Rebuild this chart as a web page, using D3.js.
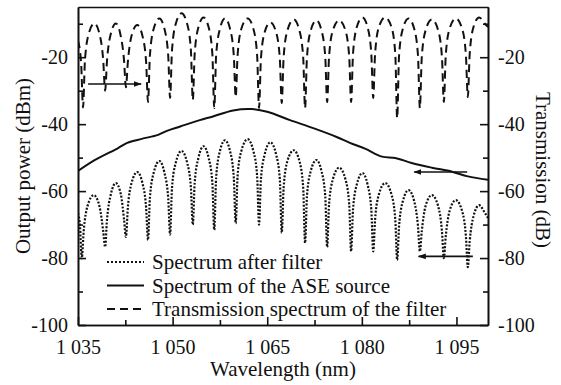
<!DOCTYPE html>
<html>
<head>
<meta charset="utf-8">
<script src="https://cdn.jsdelivr.net/npm/d3@7"></script>
<style>
  body { margin: 0; background: #fff; }
  svg text { font-family: "Liberation Serif", "Times New Roman", serif; fill: #111; }
</style>
</head>
<body>
<div id="chart"></div>
<script>
// wavelength ticks (nm) and power ticks (dB)
var xMajor = [1035, 1050, 1065, 1080, 1095];
var xMinor = [1042.5, 1057.5, 1072.5, 1087.5];
var yMajor = [-100, -80, -60, -40, -20];
var yMinor = [-90, -70, -50, -30, -10];

// spectrum of the ASE source [nm, dBm]
var aseSpectrum = [
  [1035.0,-54.0],[1037.7,-50.7],[1041.3,-47.2],[1042.8,-45.6],[1045.1,-44.4],
  [1047.7,-43.2],[1049.1,-42.0],[1051.2,-40.7],[1054.3,-38.8],[1056.4,-37.7],
  [1059.6,-35.9],[1062.6,-35.5],[1065.0,-36.3],[1068.6,-38.8],[1072.3,-41.2],
  [1076.1,-43.9],[1078.1,-45.6],[1080.5,-47.3],[1083.2,-49.7],[1085.3,-50.1],
  [1087.9,-51.6],[1091.1,-53.0],[1094.3,-54.2],[1096.8,-55.6],[1100.0,-56.6]
];

// transmission spectrum of the filter [nm, dB]
var filterTrans = [
  [1035.0,-15],[1035.5,-22],[1035.8,-35],
  [1036.1,-21],[1036.7,-13],[1037.6,-9.9],[1038.4,-13],[1039.0,-21],[1039.3,-30],
  [1039.6,-21],[1040.2,-13],[1041.0,-9.9],[1041.7,-13],[1042.3,-21],[1042.6,-29],
  [1042.9,-21.5],[1043.5,-13.5],[1044.4,-10.4],[1045.2,-13.5],[1045.8,-21.5],[1046.1,-33.4],
  [1046.4,-19.5],[1047.0,-11.5],[1047.9,-8.4],[1048.7,-11.5],[1049.3,-19.5],[1049.6,-32.2],
  [1049.9,-18],[1050.5,-10],[1051.4,-6.9],[1052.3,-10],[1052.9,-18],[1053.2,-32.8],
  [1053.5,-19],[1054.1,-11],[1054.9,-8.1],[1055.7,-11],[1056.3,-19],[1056.6,-35.2],
  [1056.9,-19.5],[1057.5,-11.5],[1058.3,-8.4],[1059.1,-11.5],[1059.7,-19.5],[1060.0,-31.9],
  [1060.3,-19.5],[1060.9,-11.5],[1061.9,-8.4],[1062.8,-11.5],[1063.4,-19.5],[1063.7,-35.2],
  [1064.0,-20.5],[1064.6,-12.5],[1065.5,-9.6],[1066.4,-12.5],[1067.0,-20.5],[1067.3,-33.7],
  [1067.6,-20],[1068.2,-12],[1069.2,-8.7],[1070.1,-12],[1070.7,-20],[1071.0,-35.2],
  [1071.3,-20],[1071.9,-12],[1072.8,-9],[1073.6,-12],[1074.2,-20],[1074.5,-33.4],
  [1074.8,-20],[1075.4,-12],[1076.4,-9],[1077.4,-12],[1078.0,-20],[1078.3,-33.4],
  [1078.6,-19],[1079.2,-11],[1080.1,-8.1],[1080.9,-11],[1081.5,-19],[1081.8,-32.2],
  [1082.1,-19],[1082.7,-11],[1083.7,-8.1],[1084.7,-11],[1085.3,-19],[1085.6,-38.2],
  [1085.9,-19.5],[1086.5,-11.5],[1087.4,-8.4],[1088.3,-11.5],[1088.9,-19.5],[1089.2,-35.2],
  [1089.5,-20],[1090.1,-12],[1091.1,-8.7],[1092.1,-12],[1092.7,-20],[1093.0,-33.4],
  [1093.3,-19.5],[1093.9,-11.5],[1094.9,-8.4],[1095.9,-11.5],[1096.5,-19.5],[1096.8,-31.9],
  [1097.1,-19],[1097.7,-11],[1098.6,-8.1],[1099.5,-10],[1100.0,-11]
];

// spectrum after filter [nm, dBm]
var afterFilter = [
  [1035.0,-66.6],[1035.3,-70],[1035.6,-80],
  [1035.9,-72],[1036.5,-64.5],[1037.5,-61.2],[1038.4,-64.5],[1039.0,-72],[1039.3,-76.7],
  [1039.6,-68.5],[1040.2,-61],[1041.0,-57.6],[1041.8,-61],[1042.3,-68.5],[1042.6,-73.7],
  [1042.9,-65],[1043.5,-57.5],[1044.4,-54.3],[1045.2,-57.5],[1045.8,-65],[1046.1,-74.6],
  [1046.4,-62],[1047.0,-54.5],[1047.9,-51],[1048.7,-54.5],[1049.3,-62],[1049.6,-73],
  [1049.9,-59],[1050.5,-51.5],[1051.4,-48],[1052.3,-51.5],[1052.9,-59],[1053.2,-70],
  [1053.5,-57.5],[1054.1,-50],[1054.9,-46.6],[1055.7,-50],[1056.3,-57.5],[1056.6,-71.6],
  [1056.9,-56],[1057.5,-48],[1058.3,-44.8],[1059.1,-48],[1059.7,-56],[1060.0,-69.6],
  [1060.3,-55.5],[1060.9,-48],[1061.9,-44.5],[1062.8,-48],[1063.4,-55.5],[1063.7,-70],
  [1064.0,-56.5],[1064.6,-49],[1065.5,-45.4],[1066.4,-49],[1067.0,-56.5],[1067.3,-72.5],
  [1067.6,-59],[1068.2,-51],[1069.2,-47.8],[1070.1,-51],[1070.7,-59],[1071.0,-75.5],
  [1071.3,-61.5],[1071.9,-54],[1072.8,-50.7],[1073.6,-54],[1074.2,-61.5],[1074.5,-76.7],
  [1074.8,-64],[1075.4,-56.5],[1076.4,-53],[1077.4,-56.5],[1078.0,-64],[1078.3,-78],
  [1078.6,-65.5],[1079.2,-58],[1080.1,-54.6],[1080.9,-58],[1081.5,-65.5],[1081.8,-78],
  [1082.1,-68.5],[1082.7,-61],[1083.7,-57.6],[1084.7,-61],[1085.3,-68.5],[1085.6,-80.6],
  [1085.9,-70.5],[1086.5,-63],[1087.4,-59.7],[1088.3,-63],[1088.9,-70.5],[1089.2,-78],
  [1089.5,-72],[1090.1,-64.5],[1091.1,-61.2],[1092.1,-64.5],[1092.7,-72],[1093.0,-80],
  [1093.3,-73.5],[1093.9,-66],[1094.9,-62.7],[1095.9,-66],[1096.5,-73.5],[1096.8,-82.7],
  [1097.1,-75],[1097.7,-67.5],[1098.6,-64.2],[1099.5,-66.5],[1100.0,-68]
];

// arrows pointing at the axis each curve belongs to [from nm, to nm, dB]
var arrows = [
  [1036.6, 1045.0, -28],
  [1096.7, 1088.3, -54.3],
  [1097.6, 1089.0, -79.5]
];

var legendNames = ["Spectrum after filter", "Spectrum of the ASE source", "Transmission spectrum of the filter"];
var legendDash = ["2,2", null, "8,5"];

var W = 561, H = 385;
var m = {top: 7, right: 73, bottom: 60, left: 78};

var svg = d3.select('#chart').append('svg').attr('width', W).attr('height', H);

var x = d3.scaleLinear().domain([1035, 1100]).range([m.left, W - m.right]);
var y = d3.scaleLinear().domain([-100, -5]).range([H - m.bottom, m.top]);

svg.append('defs').append('marker')
  .attr('id', 'head').attr('viewBox', '0 0 10 10')
  .attr('refX', 9).attr('refY', 5)
  .attr('markerWidth', 8).attr('markerHeight', 8)
  .attr('markerUnits', 'userSpaceOnUse')
  .attr('orient', 'auto')
  .append('path').attr('d', 'M0,1.5 L10,5 L0,8.5 Z').attr('fill', '#111');

var line = d3.line()
  .x(function(d){ return x(d[0]); })
  .y(function(d){ return y(d[1]); })
  .curve(d3.curveMonotoneX);

svg.append('defs').append('clipPath').attr('id', 'clip')
  .append('rect').attr('x', m.left).attr('y', m.top)
  .attr('width', W - m.left - m.right).attr('height', H - m.top - m.bottom);

var plot = svg.append('g').attr('clip-path', 'url(#clip)');

plot.append('path').datum(filterTrans).attr('d', line)
  .attr('fill', 'none').attr('stroke', '#111').attr('stroke-width', 2)
  .attr('stroke-dasharray', '8,5');
plot.append('path').datum(aseSpectrum).attr('d', line.curve(d3.curveCatmullRom))
  .attr('fill', 'none').attr('stroke', '#111').attr('stroke-width', 2);
line.curve(d3.curveMonotoneX);
plot.append('path').datum(afterFilter).attr('d', line)
  .attr('fill', 'none').attr('stroke', '#111').attr('stroke-width', 2.2)
  .attr('stroke-dasharray', '2,1.6');

svg.selectAll('.arrow').data(arrows).enter().append('line')
  .attr('class', 'arrow')
  .attr('x1', function(d){ return x(d[0]); })
  .attr('x2', function(d){ return x(d[1]); })
  .attr('y1', function(d){ return y(d[2]); })
  .attr('y2', function(d){ return y(d[2]); })
  .attr('stroke', '#111').attr('stroke-width', 1.6)
  .attr('marker-end', 'url(#head)');

// axes, ticks inward
function styleAxis(g){
  g.attr('font-family', '"Liberation Serif", serif').attr('font-size', 20);
  g.selectAll('path, line').attr('stroke', '#111').attr('stroke-width', 1.6);
  g.selectAll('text').attr('fill', '#111');
}
var fmtX = function(d){ var s = String(d); return s.charAt(0) + ' ' + s.slice(1); };

svg.append('g').attr('transform', 'translate(0,' + (H - m.bottom) + ')')
  .call(d3.axisBottom(x).tickValues(xMajor).tickFormat(fmtX).tickSize(-8).tickSizeOuter(0).tickPadding(15))
  .call(styleAxis);
svg.append('g').attr('transform', 'translate(0,' + (H - m.bottom) + ')')
  .call(d3.axisBottom(x).tickValues(xMinor).tickFormat('').tickSize(-5).tickSizeOuter(0))
  .call(styleAxis);
svg.append('g').attr('transform', 'translate(0,' + m.top + ')')
  .call(d3.axisTop(x).tickValues([]).tickSizeOuter(0))
  .call(styleAxis);

svg.append('g').attr('transform', 'translate(' + m.left + ',0)')
  .call(d3.axisLeft(y).tickValues(yMajor).tickFormat(d3.format('d')).tickSize(-8).tickSizeOuter(0).tickPadding(10))
  .call(styleAxis);
svg.append('g').attr('transform', 'translate(' + m.left + ',0)')
  .call(d3.axisLeft(y).tickValues(yMinor).tickFormat('').tickSize(-5).tickSizeOuter(0))
  .call(styleAxis);
svg.append('g').attr('transform', 'translate(' + (W - m.right) + ',0)')
  .call(d3.axisRight(y).tickValues(yMajor).tickFormat(d3.format('d')).tickSize(-8).tickSizeOuter(0).tickPadding(10))
  .call(styleAxis);
svg.append('g').attr('transform', 'translate(' + (W - m.right) + ',0)')
  .call(d3.axisRight(y).tickValues(yMinor).tickFormat('').tickSize(-5).tickSizeOuter(0))
  .call(styleAxis);

// minus signs as plain hyphen like the original
svg.selectAll('.tick text').text(function(){ return this.textContent.replace('\u2212', '-'); });

// axis titles
svg.append('text').attr('x', (m.left + W - m.right) / 2).attr('y', 376)
  .attr('text-anchor', 'middle').attr('font-size', 21).text('Wavelength (nm)');
svg.append('text').attr('transform', 'translate(30,' + ((m.top + H - m.bottom) / 2) + ') rotate(-90)')
  .attr('text-anchor', 'middle').attr('font-size', 21).text('Output power (dBm)');
svg.append('text').attr('transform', 'translate(536,' + ((m.top + H - m.bottom) / 2 + 4) + ') rotate(90)')
  .attr('text-anchor', 'middle').attr('font-size', 21).text('Transmission (dB)');

// legend
var lg = svg.append('g').selectAll('g').data(legendNames).enter().append('g')
  .attr('transform', function(d, i){ return 'translate(107,' + (262 + i * 23.5) + ')'; });
lg.append('line').attr('x1', 0).attr('x2', 37).attr('y1', 0).attr('y2', 0)
  .attr('stroke', '#111').attr('stroke-width', 2)
  .attr('stroke-dasharray', function(d, i){ return legendDash[i]; });
lg.append('text').attr('x', 45).attr('y', 7).attr('font-size', 21).text(function(d){ return d; });
</script>
</body>
</html>
